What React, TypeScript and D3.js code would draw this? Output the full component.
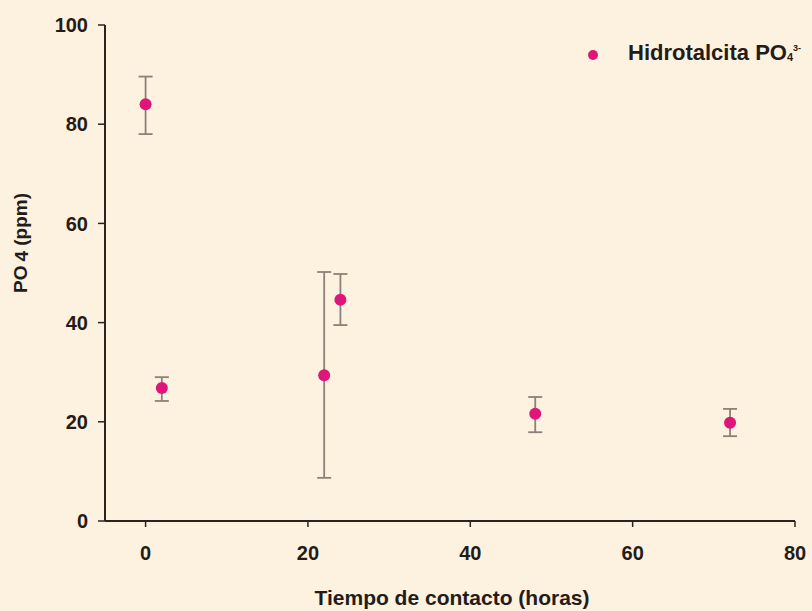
import { scaleLinear } from "d3";

const timeHours = [0, 2, 22, 24, 48, 72];
const po4Ppm = [84, 26.8, 29.4, 44.6, 21.6, 19.8];
const errLow = [78, 24.2, 8.7, 39.5, 17.9, 17.1];
const errHigh = [89.6, 29, 50.2, 49.8, 25, 22.6];
const xTicks = [0, 20, 40, 60, 80];
const yTicks = [0, 20, 40, 60, 80, 100];

const width = 812;
const height = 611;
const bg = "#fdf1e0";
const dotColor = "#e0157a";
const barColor = "#8c8078";
const axisColor = "#2b231e";
const textColor = "#231c18";
const font = "'Liberation Sans', Arial, sans-serif";

const App = () => {
  const xScale = scaleLinear().domain([-5, 80]).range([105, 795]);
  const yScale = scaleLinear().domain([0, 100]).range([521, 25]);
  const cap = 7;

  return (
    <svg
      width={width}
      height={height}
      style={{ position: "absolute", left: 0, top: 0, background: bg }}
      fontFamily={font}
      fontWeight="bold"
    >
      <rect width={width} height={height} fill={bg} />
      {/* axes */}
      <line x1={xScale(-5)} x2={xScale(-5)} y1={yScale(100)} y2={yScale(0)} stroke={axisColor} strokeWidth={2} />
      <line x1={xScale(-5)} x2={xScale(80)} y1={yScale(0)} y2={yScale(0)} stroke={axisColor} strokeWidth={2.2} />
      {yTicks.map((t) => (
        <g key={t} transform={`translate(${xScale(-5)},${yScale(t)})`}>
          <line x1={-7} x2={0} stroke={axisColor} strokeWidth={1.5} />
          <text x={-17} dy="0.36em" textAnchor="end" fontSize={20} fill={textColor}>
            {t}
          </text>
        </g>
      ))}
      {xTicks.map((t) => (
        <g key={t} transform={`translate(${xScale(t)},${yScale(0)})`}>
          <line y1={0} y2={6} stroke={axisColor} strokeWidth={1.5} />
          <text y={39} textAnchor="middle" fontSize={20} fill={textColor}>
            {t}
          </text>
        </g>
      ))}
      <text x={452} y={605} textAnchor="middle" fontSize={21} fill={textColor}>
        Tiempo de contacto (horas)
      </text>
      <text
        transform={`translate(27,243) rotate(-90)`}
        textAnchor="middle"
        fontSize={19}
        fill={textColor}
      >
        PO<tspan dx={4} dy={1}>4</tspan>
        <tspan dy={-1}> (ppm)</tspan>
      </text>

      {/* error bars + points */}
      {timeHours.map((t, i) => {
        const cx = xScale(t);
        return (
          <g key={i}>
            <line x1={cx} x2={cx} y1={yScale(errLow[i])} y2={yScale(errHigh[i])} stroke={barColor} strokeWidth={1.8} />
            <line x1={cx - cap} x2={cx + cap} y1={yScale(errLow[i])} y2={yScale(errLow[i])} stroke={barColor} strokeWidth={1.8} />
            <line x1={cx - cap} x2={cx + cap} y1={yScale(errHigh[i])} y2={yScale(errHigh[i])} stroke={barColor} strokeWidth={1.8} />
            <circle cx={cx} cy={yScale(po4Ppm[i])} r={6} fill={dotColor} />
          </g>
        );
      })}

      {/* legend */}
      <circle cx={593} cy={55} r={5} fill={dotColor} />
      <text x={628} y={60} fontSize={22} fill={textColor}>
        Hidrotalcita PO
        <tspan fontSize={11} dy={1}>4</tspan>
        <tspan fontSize={9} dy={-10}>3-</tspan>
      </text>
    </svg>
  );
};

export default App;
